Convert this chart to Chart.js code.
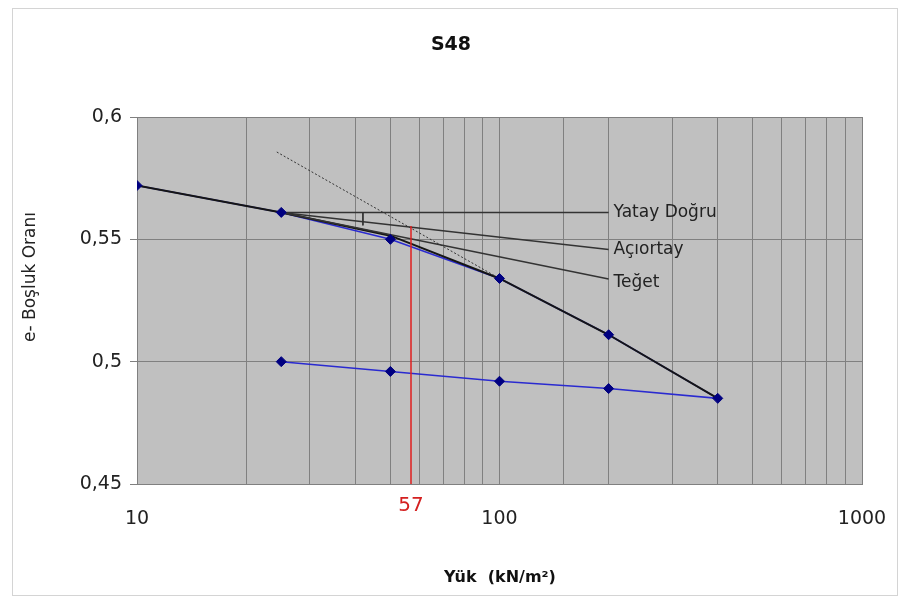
<!DOCTYPE html>
<html>
<head>
<meta charset="utf-8">
<script src="https://cdn.jsdelivr.net/npm/chart.js@4"></script>
<style>
  body { margin: 0; background: #fff; }
  #wrap { width: 900px; height: 603px; position: relative; }
</style>
</head>
<body>
<div id="wrap"><canvas id="chart"></canvas></div>
<script>
// Oedometer test data, sample S48 (load kN/m2 vs void ratio)
const loadValues = [10, 25, 50, 100, 200, 400, 200, 100, 50, 25];
const voidRatio = [0.572, 0.561, 0.550, 0.534, 0.511, 0.485, 0.489, 0.492, 0.496, 0.500];

// fitted curve (black)
const curveLoad = [10, 25, 50, 100, 200, 400];
const curveE = [0.572, 0.561, 0.5515, 0.534, 0.511, 0.485];

// Casagrande construction lines
const horizLoad = [25, 200];
const horizE = [0.561, 0.561];
const bisectLoad = [25, 200];
const bisectE = [0.561, 0.5458];
const tangentLoad = [25, 200];
const tangentE = [0.561, 0.5338];
const extLoad = [24.3, 100];
const extE = [0.5857, 0.534];
const angleLoad = [42, 42];
const angleE = [0.561, 0.5557];
const pcLoad = [57, 57];
const pcE = [0.5555, 0.45];

const lineLabels = ['Yatay Doğru', 'Açıortay', 'Teğet'];
const yTicks = [0.45, 0.5, 0.55, 0.6];

const FONT = '"DejaVu Sans", Verdana, sans-serif';

function pts(xs, ys) {
  return xs.map((x, i) => ({ x: x, y: ys[i] }));
}

function lineSet(xs, ys, color, width, dash) {
  return {
    data: pts(xs, ys),
    showLine: true,
    borderColor: color,
    borderWidth: width,
    borderDash: dash || [],
    pointRadius: 0,
    fill: false
  };
}

const decorations = {
  id: 'decorations',
  beforeDraw(chart) {
    const { ctx, chartArea: a } = chart;
    ctx.save();
    ctx.strokeStyle = '#d4d4d4';
    ctx.lineWidth = 1;
    ctx.strokeRect(12.5, 8.5, 885, 587);
    ctx.fillStyle = '#c0c0c0';
    ctx.fillRect(a.left, a.top, a.right - a.left, a.bottom - a.top);
    ctx.restore();
  },
  afterDraw(chart) {
    const { ctx } = chart;
    const xs = chart.scales.x, ys = chart.scales.y;
    ctx.save();
    ctx.fillStyle = '#111';
    ctx.textAlign = 'center';
    ctx.textBaseline = 'middle';
    ctx.font = 'bold 19px ' + FONT;
    ctx.fillText('S48', 451, 45);
    ctx.font = 'bold 16px ' + FONT;
    ctx.fillText('Yük  (kN/m²)', 500, 578);

    ctx.save();
    ctx.translate(31, 277);
    ctx.rotate(-Math.PI / 2);
    ctx.font = '17px ' + FONT;
    ctx.fillStyle = '#222';
    ctx.fillText('e- Boşluk Oranı', 0, 0);
    ctx.restore();

    // red pre-consolidation value
    ctx.fillStyle = '#d42020';
    ctx.font = '20px ' + FONT;
    ctx.fillText('57', xs.getPixelForValue(pcLoad[0]), 506);

    // line labels
    ctx.fillStyle = '#222';
    ctx.textAlign = 'left';
    ctx.font = '17px ' + FONT;
    const ends = [[horizLoad[1], horizE[1], 0], [bisectLoad[1], bisectE[1], 0], [tangentLoad[1], tangentE[1], 4]];
    ends.forEach((e, i) => {
      ctx.fillText(lineLabels[i], xs.getPixelForValue(e[0]) + 5, ys.getPixelForValue(e[1]) + e[2]);
    });
    ctx.restore();
  }
};

// first dataset in the list ends up on top
new Chart(document.getElementById('chart'), {
  type: 'scatter',
  data: {
    datasets: [
      {
        data: pts(loadValues, voidRatio),
        showLine: false,
        pointStyle: 'rectRot',
        pointRadius: 5,
        pointBackgroundColor: '#000080',
        pointBorderColor: '#000080',
        pointBorderWidth: 1
      },
      lineSet(pcLoad, pcE, '#e02020', 1.5),
      lineSet(angleLoad, angleE, '#333', 1),
      lineSet(extLoad, extE, '#333', 1, [2, 2]),
      lineSet(tangentLoad, tangentE, '#333', 1.5),
      lineSet(bisectLoad, bisectE, '#333', 1.5),
      lineSet(horizLoad, horizE, '#333', 1.5),
      lineSet(curveLoad, curveE, '#151515', 2),
      lineSet(loadValues, voidRatio, '#2a2ad0', 1.5)
    ]
  },
  options: {
    responsive: true,
    maintainAspectRatio: false,
    animation: false,
    layout: { padding: { top: 117, right: 38, left: 0, bottom: 0 } },
    plugins: {
      legend: { display: false },
      tooltip: { enabled: false }
    },
    scales: {
      x: {
        type: 'logarithmic',
        min: 10,
        max: 1000,
        afterFit: (s) => { s.height = 119; s.paddingLeft = 0; s.paddingRight = 0; },
        grid: { color: '#808080', lineWidth: 1, drawTicks: false },
        border: { color: '#808080' },
        ticks: {
          autoSkip: false,
          maxRotation: 0,
          padding: 24,
          color: '#222',
          font: { size: 19, family: FONT },
          callback: (v) => ([10, 100, 1000].includes(v) ? String(v) : '')
        }
      },
      y: {
        min: 0.45,
        max: 0.6,
        afterFit: (s) => { s.width = 137; s.paddingTop = 0; s.paddingBottom = 0; },
        afterBuildTicks: (s) => { s.ticks = yTicks.map(v => ({ value: v })); },
        grid: { color: '#808080', lineWidth: 1, tickLength: 7 },
        border: { color: '#808080' },
        ticks: {
          padding: 8,
          color: '#222',
          font: { size: 19, family: FONT },
          callback: (v) => String(Math.round(v * 100) / 100).replace('.', ',')
        }
      }
    }
  },
  plugins: [decorations]
});
</script>
</body>
</html>
